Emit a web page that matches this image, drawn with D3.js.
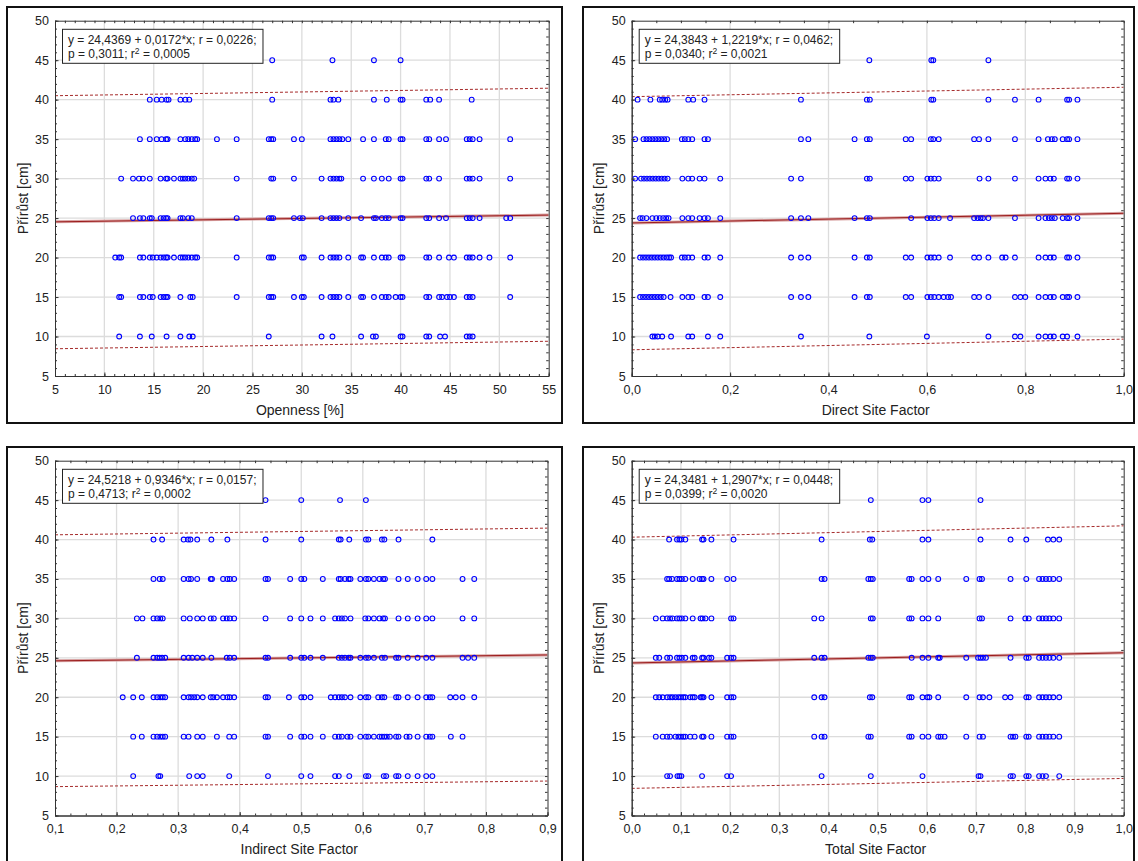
<!DOCTYPE html>
<html>
<head>
<meta charset="utf-8">
<script src="https://cdn.jsdelivr.net/npm/d3@7"></script>
<style>
  body { margin: 0; background: #fff; }
  svg { display: block; font-family: Arial, "Liberation Sans", sans-serif; }
</style>
</head>
<body>
<script>
// ---- data ----
const yLevels = [45, 40, 35, 30, 25, 20, 15, 10];
const yTicks = [5, 10, 15, 20, 25, 30, 35, 40, 45, 50];

const xTitles = ["Openness [%]", "Direct Site Factor", "Indirect Site Factor", "Total Site Factor"];
const yTitle = "Přírůst [cm]";

const intercepts = [24.4369, 24.3843, 24.5218, 24.3481];
const slopes = [0.0172, 1.2219, 0.9346, 1.2907];
const rValues = [0.0226, 0.0462, 0.0157, 0.0448];
const pValues = [0.3011, 0.0340, 0.4713, 0.0399];
const r2Values = [0.0005, 0.0021, 0.0002, 0.0020];

// prediction band at the two ends of the x domain
const predUpper = [[40.5, 41.45], [40.38, 41.57], [40.6, 41.45], [40.3, 41.74]];
const predLower = [[8.45, 9.4], [8.32, 9.67], [8.66, 9.37], [8.44, 9.7]];

// x values of the points, one list per y level (45 ... 10)
const opennessX = [
  [27.0, 33.1, 37.3, 40.0],
  [14.6, 15.3, 15.8, 16.3, 16.5, 17.7, 18.2, 18.6, 27.0, 32.9, 33.2, 33.7, 37.3, 38.6, 40.0, 40.2, 42.6, 43.0, 43.9, 47.2],
  [13.6, 14.6, 15.3, 15.8, 16.25, 16.4, 17.7, 18.2, 18.5, 18.85, 19.2, 19.4, 21.4, 23.4, 26.65, 26.9, 27.1, 29.2, 30.0, 32.9, 33.2, 33.5, 33.8, 34.1, 34.7, 36.2, 37.3, 38.5, 38.8, 40.0, 40.2, 42.6, 42.9, 43.9, 44.6, 46.7, 47.0, 47.3, 48.0, 51.1],
  [11.7, 12.9, 13.5, 13.9, 14.6, 15.7, 16.25, 16.4, 17.05, 17.7, 17.95, 18.2, 18.5, 18.85, 19.1, 23.4, 26.9, 27.1, 29.2, 32.0, 32.9, 33.2, 33.5, 33.8, 34.0, 36.2, 37.3, 38.1, 38.8, 40.0, 40.2, 42.6, 42.9, 43.9, 46.7, 47.0, 47.3, 48.0, 51.1],
  [12.9, 13.6, 13.95, 14.6, 14.8, 15.7, 16.0, 16.25, 16.4, 17.7, 17.95, 18.5, 18.85, 23.4, 26.65, 26.9, 27.1, 29.2, 29.8, 30.1, 32.0, 32.9, 33.2, 33.5, 33.8, 34.7, 36.0, 37.3, 37.5, 38.1, 38.5, 38.8, 40.0, 40.2, 42.6, 42.9, 43.9, 44.6, 46.7, 47.0, 47.3, 48.0, 50.7, 51.1],
  [11.1, 11.5, 11.7, 13.6, 13.95, 14.6, 14.9, 15.3, 15.7, 16.0, 16.25, 16.4, 17.05, 17.7, 17.95, 18.2, 18.5, 18.85, 19.2, 19.4, 23.4, 26.65, 26.9, 27.1, 30.0, 30.2, 32.0, 32.9, 33.2, 33.5, 33.8, 34.7, 36.0, 36.2, 37.3, 38.1, 38.5, 38.8, 40.0, 40.2, 42.6, 42.9, 43.9, 44.9, 45.4, 46.7, 47.0, 47.3, 48.0, 49.0, 51.1],
  [11.5, 11.7, 13.6, 13.95, 14.6, 14.9, 15.7, 16.0, 16.25, 16.4, 17.7, 18.7, 18.95, 23.4, 26.65, 26.9, 27.1, 29.2, 30.0, 30.2, 32.0, 32.9, 33.2, 33.5, 33.8, 34.7, 36.0, 36.2, 37.3, 38.1, 38.5, 38.8, 39.5, 40.0, 40.2, 42.6, 42.9, 43.9, 44.2, 44.7, 45.0, 45.4, 46.7, 47.0, 47.3, 51.1],
  [11.5, 13.6, 14.8, 16.3, 17.7, 18.6, 18.95, 26.65, 32.0, 33.1, 36.0, 37.2, 37.5, 40.0, 40.2, 42.6, 42.9, 44.0, 44.5, 46.7, 47.0, 47.3]
];

const directX = [
  [0.483, 0.609, 0.613, 0.725],
  [0.012, 0.038, 0.057, 0.062, 0.068, 0.073, 0.115, 0.125, 0.148, 0.344, 0.478, 0.484, 0.609, 0.613, 0.725, 0.779, 0.827, 0.885, 0.889, 0.906],
  [0.007, 0.024, 0.030, 0.036, 0.042, 0.048, 0.054, 0.060, 0.066, 0.072, 0.102, 0.108, 0.115, 0.123, 0.148, 0.155, 0.344, 0.359, 0.453, 0.478, 0.484, 0.557, 0.568, 0.608, 0.613, 0.624, 0.696, 0.706, 0.725, 0.779, 0.827, 0.846, 0.854, 0.860, 0.876, 0.885, 0.889, 0.906],
  [0.007, 0.019, 0.025, 0.031, 0.037, 0.043, 0.049, 0.055, 0.061, 0.067, 0.073, 0.103, 0.115, 0.123, 0.138, 0.148, 0.180, 0.324, 0.344, 0.478, 0.484, 0.557, 0.568, 0.601, 0.608, 0.615, 0.624, 0.707, 0.725, 0.779, 0.827, 0.841, 0.851, 0.858, 0.885, 0.889, 0.906],
  [0.017, 0.022, 0.030, 0.042, 0.050, 0.057, 0.064, 0.070, 0.075, 0.103, 0.115, 0.123, 0.138, 0.148, 0.155, 0.180, 0.324, 0.344, 0.359, 0.453, 0.478, 0.484, 0.568, 0.601, 0.608, 0.615, 0.624, 0.647, 0.696, 0.703, 0.709, 0.714, 0.725, 0.779, 0.827, 0.841, 0.848, 0.854, 0.860, 0.876, 0.885, 0.889, 0.906],
  [0.017, 0.023, 0.029, 0.035, 0.041, 0.047, 0.053, 0.059, 0.065, 0.071, 0.076, 0.080, 0.102, 0.108, 0.115, 0.123, 0.148, 0.155, 0.180, 0.324, 0.344, 0.359, 0.453, 0.478, 0.484, 0.557, 0.568, 0.601, 0.608, 0.615, 0.624, 0.647, 0.696, 0.706, 0.725, 0.753, 0.760, 0.779, 0.827, 0.841, 0.851, 0.858, 0.885, 0.889, 0.906],
  [0.017, 0.023, 0.029, 0.035, 0.041, 0.047, 0.053, 0.059, 0.065, 0.079, 0.103, 0.115, 0.123, 0.148, 0.155, 0.180, 0.324, 0.344, 0.359, 0.453, 0.478, 0.484, 0.557, 0.568, 0.601, 0.608, 0.615, 0.624, 0.634, 0.643, 0.649, 0.696, 0.706, 0.725, 0.779, 0.790, 0.800, 0.827, 0.841, 0.851, 0.858, 0.876, 0.885, 0.889, 0.906],
  [0.042, 0.047, 0.053, 0.062, 0.080, 0.115, 0.123, 0.155, 0.180, 0.344, 0.483, 0.600, 0.725, 0.779, 0.790, 0.827, 0.841, 0.851, 0.858, 0.876, 0.885, 0.906]
];

const indirectX = [
  [0.442, 0.500, 0.563, 0.605],
  [0.260, 0.274, 0.309, 0.316, 0.320, 0.331, 0.354, 0.380, 0.442, 0.500, 0.561, 0.564, 0.578, 0.605, 0.609, 0.631, 0.635, 0.658, 0.713],
  [0.260, 0.270, 0.275, 0.309, 0.317, 0.321, 0.331, 0.353, 0.355, 0.373, 0.380, 0.384, 0.391, 0.442, 0.446, 0.482, 0.500, 0.505, 0.535, 0.561, 0.564, 0.571, 0.577, 0.580, 0.596, 0.605, 0.609, 0.618, 0.627, 0.633, 0.636, 0.658, 0.673, 0.689, 0.703, 0.713, 0.762, 0.781],
  [0.233, 0.242, 0.260, 0.266, 0.271, 0.275, 0.309, 0.319, 0.331, 0.340, 0.353, 0.358, 0.373, 0.379, 0.384, 0.391, 0.442, 0.482, 0.500, 0.515, 0.535, 0.555, 0.561, 0.566, 0.571, 0.580, 0.604, 0.609, 0.618, 0.627, 0.633, 0.636, 0.658, 0.673, 0.689, 0.703, 0.713, 0.762, 0.781],
  [0.233, 0.260, 0.266, 0.270, 0.274, 0.279, 0.309, 0.317, 0.323, 0.331, 0.340, 0.354, 0.379, 0.384, 0.391, 0.442, 0.446, 0.482, 0.500, 0.505, 0.515, 0.535, 0.561, 0.566, 0.571, 0.577, 0.580, 0.596, 0.605, 0.609, 0.618, 0.631, 0.636, 0.654, 0.658, 0.673, 0.689, 0.703, 0.713, 0.762, 0.771, 0.781],
  [0.210, 0.227, 0.241, 0.260, 0.266, 0.271, 0.275, 0.279, 0.309, 0.317, 0.321, 0.326, 0.331, 0.340, 0.353, 0.357, 0.363, 0.373, 0.380, 0.384, 0.391, 0.442, 0.446, 0.480, 0.500, 0.505, 0.515, 0.548, 0.555, 0.561, 0.566, 0.571, 0.580, 0.596, 0.605, 0.609, 0.625, 0.631, 0.635, 0.654, 0.658, 0.673, 0.689, 0.703, 0.709, 0.713, 0.742, 0.751, 0.762, 0.781],
  [0.227, 0.241, 0.260, 0.266, 0.271, 0.275, 0.279, 0.309, 0.317, 0.331, 0.340, 0.363, 0.383, 0.391, 0.442, 0.446, 0.482, 0.500, 0.505, 0.515, 0.535, 0.555, 0.561, 0.566, 0.575, 0.580, 0.596, 0.605, 0.609, 0.618, 0.627, 0.631, 0.635, 0.639, 0.644, 0.654, 0.658, 0.671, 0.676, 0.689, 0.703, 0.709, 0.713, 0.743, 0.762],
  [0.227, 0.268, 0.271, 0.318, 0.331, 0.340, 0.383, 0.446, 0.500, 0.515, 0.555, 0.561, 0.578, 0.605, 0.609, 0.634, 0.638, 0.654, 0.658, 0.673, 0.689, 0.703, 0.713]
];

const totalX = [
  [0.486, 0.591, 0.603, 0.709],
  [0.076, 0.092, 0.097, 0.101, 0.109, 0.143, 0.146, 0.162, 0.207, 0.386, 0.484, 0.489, 0.591, 0.603, 0.709, 0.770, 0.802, 0.846, 0.857, 0.869],
  [0.072, 0.076, 0.082, 0.092, 0.097, 0.102, 0.109, 0.124, 0.138, 0.143, 0.146, 0.162, 0.194, 0.207, 0.386, 0.392, 0.481, 0.486, 0.490, 0.564, 0.569, 0.591, 0.603, 0.623, 0.680, 0.707, 0.712, 0.770, 0.802, 0.828, 0.835, 0.842, 0.849, 0.857, 0.869],
  [0.049, 0.063, 0.072, 0.078, 0.083, 0.092, 0.097, 0.102, 0.109, 0.124, 0.140, 0.144, 0.150, 0.162, 0.202, 0.207, 0.371, 0.386, 0.486, 0.490, 0.564, 0.569, 0.591, 0.603, 0.623, 0.707, 0.712, 0.770, 0.800, 0.807, 0.828, 0.835, 0.842, 0.849, 0.857, 0.869],
  [0.049, 0.056, 0.072, 0.078, 0.092, 0.097, 0.102, 0.109, 0.124, 0.128, 0.143, 0.146, 0.157, 0.162, 0.194, 0.202, 0.207, 0.371, 0.386, 0.392, 0.481, 0.486, 0.490, 0.569, 0.591, 0.603, 0.623, 0.626, 0.680, 0.704, 0.709, 0.714, 0.720, 0.770, 0.802, 0.807, 0.828, 0.835, 0.842, 0.849, 0.857, 0.869],
  [0.049, 0.056, 0.063, 0.072, 0.078, 0.083, 0.089, 0.095, 0.100, 0.105, 0.109, 0.119, 0.124, 0.128, 0.140, 0.143, 0.146, 0.162, 0.194, 0.202, 0.207, 0.371, 0.386, 0.392, 0.484, 0.489, 0.564, 0.569, 0.591, 0.601, 0.605, 0.623, 0.680, 0.707, 0.714, 0.727, 0.759, 0.770, 0.802, 0.807, 0.828, 0.835, 0.842, 0.849, 0.857, 0.869],
  [0.049, 0.063, 0.072, 0.078, 0.089, 0.095, 0.100, 0.105, 0.109, 0.119, 0.128, 0.143, 0.146, 0.162, 0.194, 0.202, 0.207, 0.371, 0.386, 0.392, 0.481, 0.486, 0.564, 0.569, 0.591, 0.603, 0.623, 0.628, 0.636, 0.680, 0.707, 0.714, 0.770, 0.775, 0.780, 0.802, 0.807, 0.828, 0.835, 0.842, 0.849, 0.857, 0.869],
  [0.072, 0.078, 0.093, 0.097, 0.101, 0.143, 0.194, 0.202, 0.386, 0.486, 0.591, 0.705, 0.709, 0.770, 0.775, 0.802, 0.807, 0.828, 0.835, 0.842, 0.869]
];

const xDomains = [[5, 55], [0, 1], [0.1, 0.9], [0, 1]];
const xMajorSteps = [5, 0.2, 0.1, 0.1];
const xMinorSteps = [1, 0.05, 0.025, 0.025];
const pointSets = [opennessX, directX, indirectX, totalX];

// ---- layout ----
const W = 1138, H = 861;
const frames = [
  { x: 7, y: 7, w: 555, h: 416 },
  { x: 583, y: 7, w: 551, h: 416 },
  { x: 7, y: 447, w: 555, h: 416 },
  { x: 583, y: 447, w: 551, h: 416 }
];
const plots = [
  { l: 55, r: 548.7, t: 20.7, b: 376 },
  { l: 631.7, r: 1123.7, t: 20.7, b: 376 },
  { l: 55, r: 547.5, t: 460.7, b: 815.5 },
  { l: 631.7, r: 1123.7, t: 460.7, b: 815.5 }
];

const comma = s => s.replace(".", ",");
const f4 = d3.format(".4f");

const svg = d3.select("body").append("svg")
  .attr("width", W)
  .attr("height", H);

svg.append("rect").attr("width", W).attr("height", H).attr("fill", "#fff");

function range(a, b, step) {
  const n = Math.round((b - a) / step);
  return d3.range(n + 1).map(i => +(a + i * step).toFixed(4));
}

function drawPanel(i) {
  const fr = frames[i], pl = plots[i];
  const x = d3.scaleLinear().domain(xDomains[i]).range([pl.l, pl.r]);
  const y = d3.scaleLinear().domain([5, 50]).range([pl.b, pl.t]);
  const xMajor = range(xDomains[i][0], xDomains[i][1], xMajorSteps[i]);
  const xMinor = range(xDomains[i][0], xDomains[i][1], xMinorSteps[i]);
  const yMinor = d3.range(5, 51, 1);
  const xFmt = i === 0 ? d3.format("d") : (v => comma(d3.format(".1f")(v)));

  // outer frame
  svg.append("rect")
    .attr("x", fr.x).attr("y", fr.y)
    .attr("width", fr.w).attr("height", fr.h)
    .attr("fill", "none").attr("stroke", "#111").attr("stroke-width", 2);

  const g = svg.append("g");

  // grid
  g.append("g").selectAll("line")
    .data(xMajor.slice(1, -1)).enter().append("line")
    .attr("x1", d => x(d)).attr("x2", d => x(d))
    .attr("y1", pl.t).attr("y2", pl.b)
    .attr("stroke", "#dcdcdc").attr("stroke-width", 1.3);
  g.append("g").selectAll("line")
    .data(yTicks.slice(1, -1)).enter().append("line")
    .attr("x1", pl.l).attr("x2", pl.r)
    .attr("y1", d => y(d)).attr("y2", d => y(d))
    .attr("stroke", "#dcdcdc").attr("stroke-width", 1.3);

  // clip
  const clipId = "clip" + i;
  svg.append("clipPath").attr("id", clipId).append("rect")
    .attr("x", pl.l).attr("y", pl.t).attr("width", pl.r - pl.l).attr("height", pl.b - pl.t);
  const inner = g.append("g").attr("clip-path", `url(#${clipId})`);

  // prediction band (dashed)
  const line = d3.line().x(d => x(d[0])).y(d => y(d[1]));
  [predUpper[i], predLower[i]].forEach(pv => {
    inner.append("path")
      .datum([[xDomains[i][0], pv[0]], [xDomains[i][1], pv[1]]])
      .attr("d", line)
      .attr("fill", "none").attr("stroke", "#a52a2a")
      .attr("stroke-width", 1).attr("stroke-dasharray", "3,2");
  });

  // regression line
  const reg = xDomains[i].map(v => [v, intercepts[i] + slopes[i] * v]);
  inner.append("path").datum(reg).attr("d", line)
    .attr("fill", "none").attr("stroke", "#d8a3a3").attr("stroke-width", 3);
  inner.append("path").datum(reg).attr("d", line)
    .attr("fill", "none").attr("stroke", "#9b1c1c").attr("stroke-width", 1);

  // points
  const pts = [];
  pointSets[i].forEach((xs, k) => xs.forEach(v => pts.push([v, yLevels[k]])));
  inner.append("g").selectAll("circle")
    .data(pts).enter().append("circle")
    .attr("cx", d => x(d[0])).attr("cy", d => y(d[1]))
    .attr("r", 2.4)
    .attr("fill", "none").attr("stroke", "#0000ff").attr("stroke-width", 1.1);

  // axes (ticks pointing inward)
  const axStyle = sel => {
    sel.select(".domain").attr("stroke", "#333");
    sel.selectAll(".tick line").attr("stroke", "#333");
    sel.selectAll("text").attr("fill", "#222").style("font-size", "12.5px")
      .style("font-family", 'Arial, "Liberation Sans", sans-serif');
  };
  g.append("g").attr("transform", `translate(0,${pl.b})`)
    .call(d3.axisBottom(x).tickValues(xMajor).tickFormat(xFmt).tickSize(-3.5).tickPadding(9).tickSizeOuter(0))
    .call(axStyle);
  g.append("g").attr("transform", `translate(0,${pl.b})`)
    .call(d3.axisBottom(x).tickValues(xMinor).tickFormat("").tickSize(-2).tickSizeOuter(0))
    .call(axStyle);
  g.append("g").attr("transform", `translate(0,${pl.t})`)
    .call(d3.axisTop(x).tickValues(xMinor).tickFormat("").tickSize(-2.5).tickSizeOuter(0))
    .call(axStyle);
  g.append("g").attr("transform", `translate(${pl.l},0)`)
    .call(d3.axisLeft(y).tickValues(yTicks).tickSize(-3.5).tickPadding(6).tickSizeOuter(0))
    .call(axStyle);
  g.append("g").attr("transform", `translate(${pl.l},0)`)
    .call(d3.axisLeft(y).tickValues(yMinor).tickFormat("").tickSize(-2).tickSizeOuter(0))
    .call(axStyle);
  g.append("g").attr("transform", `translate(${pl.r},0)`)
    .call(d3.axisRight(y).tickValues(yMinor).tickFormat("").tickSize(-2.5).tickSizeOuter(0))
    .call(axStyle);

  // axis titles
  g.append("text")
    .attr("x", (pl.l + pl.r) / 2 - 2).attr("y", pl.b + 38.5)
    .attr("text-anchor", "middle")
    .style("font-size", "14px").attr("fill", "#222")
    .text(xTitles[i]);
  g.append("text")
    .attr("transform", `translate(${fr.x + 20.5},${(pl.t + pl.b) / 2}) rotate(-90)`)
    .attr("text-anchor", "middle")
    .style("font-size", "14px").attr("fill", "#222")
    .text(yTitle);

  // equation box
  const bx = pl.l + 7.5, by = pl.t + 8.6;
  const box = g.append("rect")
    .attr("x", bx).attr("y", by).attr("width", 194).attr("height", 34)
    .attr("fill", "#fff").attr("stroke", "#222").attr("stroke-width", 1);
  const t1 = g.append("text")
    .attr("x", bx + 5.5).attr("y", by + 15)
    .style("font-size", "12px").attr("fill", "#222")
    .text(`y = ${comma(f4(intercepts[i]))} + ${comma(f4(slopes[i]))}*x; r = ${comma(f4(rValues[i]))};`);
  const t2 = g.append("text")
    .attr("x", bx + 5.5).attr("y", by + 29)
    .style("font-size", "12px").attr("fill", "#222");
  t2.append("tspan").text(`p = ${comma(f4(pValues[i]))}; r`);
  t2.append("tspan").attr("dy", -4.5).style("font-size", "8.5px").text("2");
  t2.append("tspan").attr("dy", 4.5).text(` = ${comma(f4(r2Values[i]))}`);
  const tw = t1.node().getComputedTextLength();
  box.attr("width", tw + 12);
}

d3.range(4).forEach(drawPanel);
</script>
</body>
</html>
